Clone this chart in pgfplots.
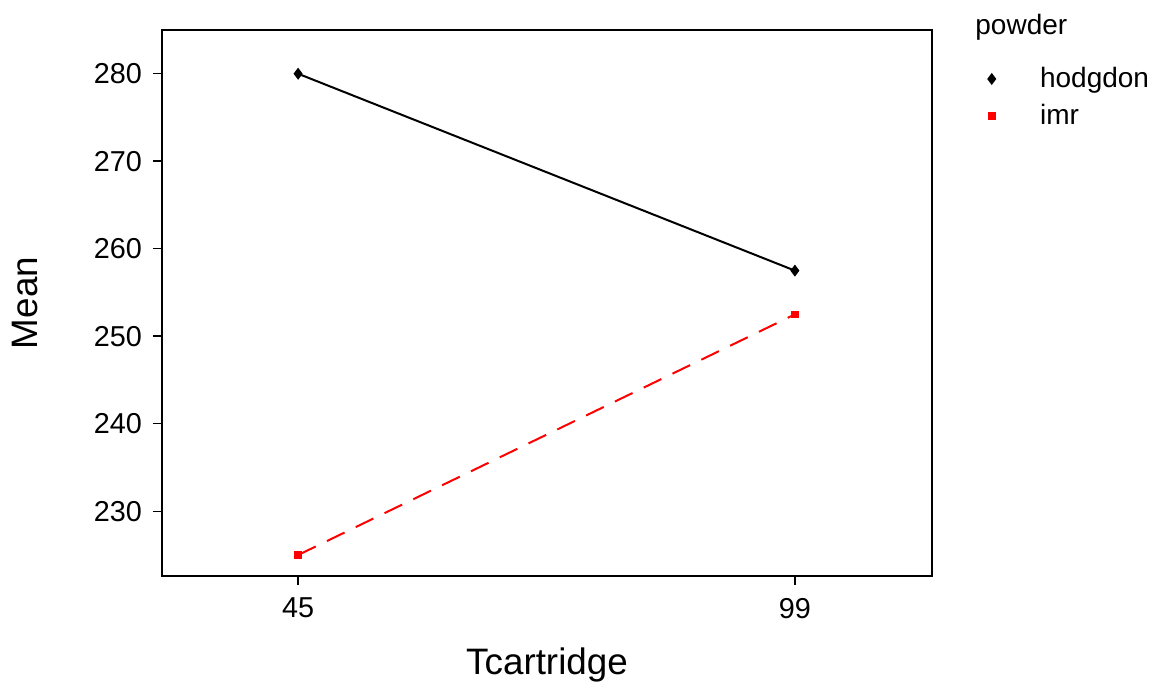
\documentclass[border=0pt]{standalone}
\usepackage{pgfplots}
\pgfplotsset{compat=1.18}
\usepackage{fontspec}
\setmainfont{Liberation Sans}
\begin{document}
\begin{tikzpicture}
\path[use as bounding box] (-81pt,-54pt) rectangle (496pt,288pt);
\begin{axis}[
  name=ax, at={(0pt,0pt)}, anchor=south west,
  scale only axis, width=385pt, height=273pt,
  xmin=0.726, xmax=2.276, ymin=222.6, ymax=285.0,
  xtick={1,2}, xticklabels={45,99},
  ytick={230,240,250,260,270,280},
  tick align=outside, major tick length=4.5pt,
  xtick pos=bottom, ytick pos=left,
  axis line style={line width=0.75pt}, tick style={line width=0.75pt, black},
  /pgf/number format/assume math mode=true,
  tick label style={font=\fontsize{14.4}{16}\selectfont},
  xticklabel style={yshift=-3pt},
  yticklabel style={xshift=-2pt},
  xlabel={Tcartridge}, ylabel={Mean},
  label style={font=\fontsize{18.4}{20}\selectfont},
  x label style={at={(axis description cs:0.5,-0.181)}, anchor=base},
  y label style={at={(axis description cs:-0.178,0.5)}, anchor=center},
  legend style={at={(axis description cs:1.065,0.947)}, anchor=north west, draw=none, fill=none,
    font=\fontsize{14}{16}\selectfont, row sep=3pt},
  legend cell align=left,
  legend image code/.code={\draw[#1] plot[only marks] coordinates {(0.1cm,0cm)};},
]
\addplot[black, line width=1pt, mark=diamond*, mark size=2.2pt, mark options={solid}] coordinates {(1,280.0) (2,257.5)};
\addlegendentry{\hspace{20.5pt}hodgdon}
\addplot[red, line width=1pt, dash pattern=on 9.8pt off 6.2pt, mark=square*, mark size=1.4pt, mark options={solid}] coordinates {(1,225.0) (2,252.5)};
\addlegendentry{\hspace{20.5pt}imr}
\end{axis}
\node[anchor=base west, font=\fontsize{14}{16}\selectfont, inner sep=0pt] at (406.5pt,270.5pt) {powder};
\end{tikzpicture}
\end{document}
